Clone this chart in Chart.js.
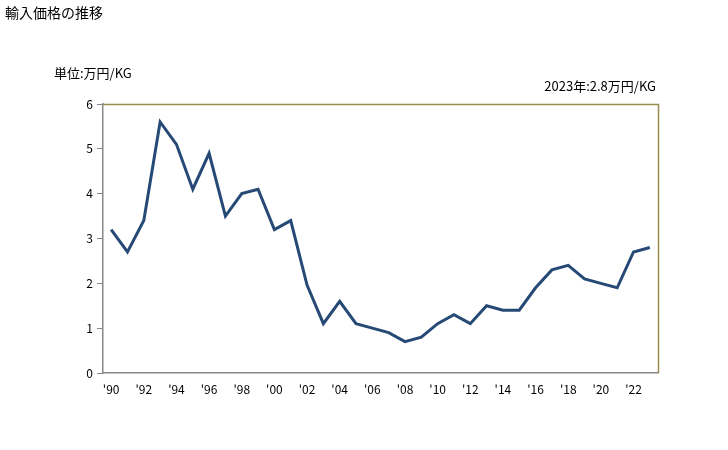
<!DOCTYPE html>
<html>
<head>
<meta charset="utf-8">
<script src="https://cdn.jsdelivr.net/npm/chart.js@4"></script>
<style>
  body { margin: 0; background: #fff; }
  #wrap { width: 728px; height: 450px; position: relative; }
</style>
</head>
<body>
<div id="wrap"><canvas id="priceChart" width="728" height="450"></canvas></div>
<script>
// years and prices (万円/KG)
var years = [1990, 1991, 1992, 1993, 1994, 1995, 1996, 1997, 1998, 1999,
             2000, 2001, 2002, 2003, 2004, 2005, 2006, 2007, 2008, 2009,
             2010, 2011, 2012, 2013, 2014, 2015, 2016, 2017, 2018, 2019,
             2020, 2021, 2022, 2023];
var prices = [3.2, 2.7, 3.4, 5.6, 5.1, 4.1, 4.9, 3.5, 4.0, 4.1,
              3.2, 3.4, 1.96, 1.1, 1.6, 1.1, 1.0, 0.9, 0.7, 0.8,
              1.1, 1.3, 1.1, 1.5, 1.4, 1.4, 1.9, 2.3, 2.4, 2.1,
              2.0, 1.9, 2.7, 2.8];
var yTicks = [0, 1, 2, 3, 4, 5, 6];

var titleText = '輸入価格の推移';
var unitText = '単位:万円/KG';
var noteText = '2023年:2.8万円/KG';

var jpFont = '"Noto Sans CJK JP", "DejaVu Sans", sans-serif';

// Short labels like '90, '92 ... only on even years
var xLabels = years.map(function(y) { return "'" + String(y).slice(2); });

// draws the texts and the olive top/right border
var extras = {
    id: 'extras',
    afterDraw: function(chart) {
        var ctx = chart.ctx;
        var a = chart.chartArea;
        ctx.save();
        ctx.strokeStyle = '#9a8d4f';
        ctx.lineWidth = 1.5;
        ctx.beginPath();
        ctx.moveTo(a.left, a.top + 0.5);
        ctx.lineTo(a.right + 0.5, a.top + 0.5);
        ctx.lineTo(a.right + 0.5, a.bottom);
        ctx.stroke();

        ctx.fillStyle = '#000';
        ctx.textBaseline = 'middle';
        ctx.font = '14px ' + jpFont;
        ctx.textAlign = 'left';
        ctx.fillText(titleText, 5, 13);
        ctx.font = '13px ' + jpFont;
        ctx.fillText(unitText, 54, 73);
        ctx.textAlign = 'right';
        ctx.fillText(noteText, 656, 86);
        ctx.restore();
    }
};

var ctx = document.getElementById('priceChart').getContext('2d');
var priceChart = new Chart(ctx, {
    type: 'line',
    data: {
        labels: xLabels,
        datasets: [{
            data: prices,
            borderColor: '#264a75',
            borderWidth: 3,
            pointRadius: 0,
            tension: 0,
            fill: false
        }]
    },
    options: {
        responsive: false,
        animation: false,
        layout: { padding: { left: 0, right: 70, top: 104, bottom: 0 } },
        plugins: {
            legend: { display: false },
            tooltip: { enabled: false }
        },
        scales: {
            x: {
                offset: true,
                grid: { display: false, drawTicks: false },
                border: { display: true, color: '#888', width: 1.5 },
                ticks: {
                    autoSkip: false,
                    maxRotation: 0,
                    padding: 9,
                    color: '#000',
                    font: { size: 12, family: jpFont },
                    callback: function(v, i) { return i % 2 === 0 ? xLabels[i] : ''; }
                },
                afterFit: function(scale) { scale.height = 77; }
            },
            y: {
                min: 0,
                max: 6,
                afterBuildTicks: function(scale) {
                    scale.ticks = yTicks.map(function(v) { return { value: v }; });
                },
                grid: { drawOnChartArea: false, drawTicks: true, tickLength: 6, color: '#888' },
                border: { display: true, color: '#888', width: 1.5 },
                ticks: {
                    padding: 4,
                    color: '#000',
                    font: { size: 12, family: jpFont }
                },
                afterFit: function(scale) { scale.width = 103; }
            }
        }
    },
    plugins: [extras]
});
</script>
</body>
</html>
